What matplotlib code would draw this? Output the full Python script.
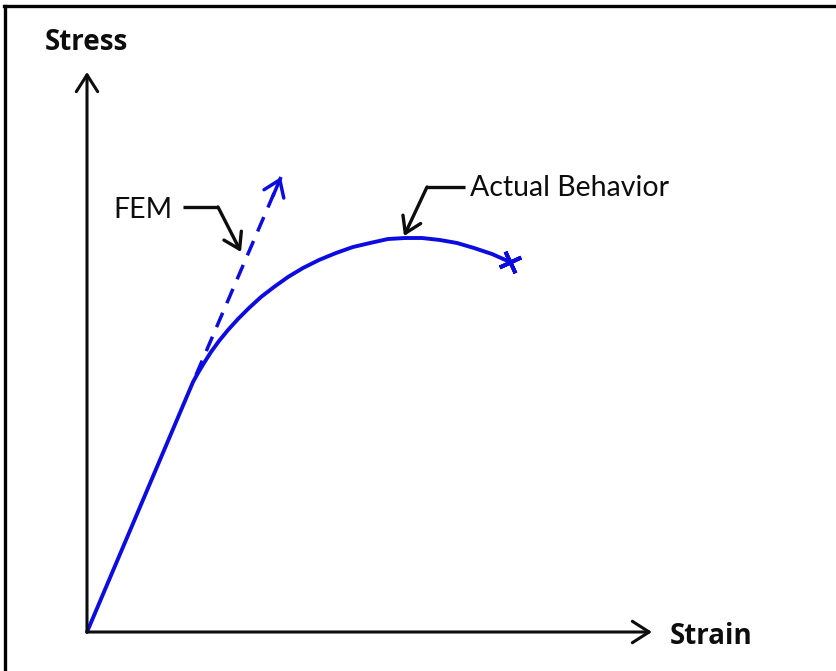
import matplotlib.pyplot as plt
from matplotlib.lines import Line2D

# stress-strain sketch, arbitrary units (origin at the axes corner)
strain_actual = [0, 106, 111, 117, 124, 132, 141, 151, 162, 174, 187, 201, 216, 232,
                 249, 266, 283, 301, 318, 335, 353, 370, 387, 405, 423]
stress_actual = [0, 250, 259, 269, 280, 291, 302, 313, 324, 335, 345, 355, 364, 372,
                 379, 385, 389, 393, 394, 394, 392, 389, 384, 378, 370]

# linear FEM prediction (dashed, continues the elastic slope)
strain_fem = [109, 194]
stress_fem = [257, 455]

# callout paths: [start of horizontal leg, bend, arrow tip]
fem_callout_x = [96, 131, 154]
fem_callout_y = [425, 425, 380]
actual_callout_x = [378, 340, 317]
actual_callout_y = [445, 445, 396]

axis_x_end = 565
axis_y_end = 560

blue = '#0c0ce0'
ink = '#0d0d0d'

fig = plt.figure(figsize=(8.36, 6.71), dpi=100)
ax = fig.add_axes([0, 0, 1, 1])
ax.set_xlim(-87, 749)
ax.set_ylim(-39, 632)
ax.axis('off')

# frame pieces (image is cropped on the right and bottom)
fig.add_artist(Line2D([0.005, 1.0], [0.991, 0.991], color='black', lw=2.4))
fig.add_artist(Line2D([0.006, 0.006], [0.0, 0.991], color='black', lw=2.4))

# axes with open arrowheads
head = '->,head_length=0.55,head_width=0.35'
ax.annotate('', xy=(0, axis_y_end), xytext=(0, 0),
            arrowprops=dict(arrowstyle=head, color=ink, lw=2.2, mutation_scale=22,
                            shrinkA=0, shrinkB=0))
ax.annotate('', xy=(axis_x_end, 0), xytext=(0, 0),
            arrowprops=dict(arrowstyle=head, color=ink, lw=2.2, mutation_scale=22,
                            shrinkA=0, shrinkB=0))
ax.text(-1, 589, 'Stress', ha='center', va='center', fontsize=20,
        fontweight='bold', family='Open Sans', color=ink)
ax.text(583, -4, 'Strain', ha='left', va='center', fontsize=20,
        fontweight='bold', family='Open Sans', color=ink)

# actual behaviour curve with fracture marker
ax.plot(strain_actual, stress_actual, color=blue, lw=2.8, solid_capstyle='round',
        solid_joinstyle='round')
ax.plot(strain_actual[-1], stress_actual[-1], marker=(4, 2, 25), ms=17,
        mew=2.8, color=blue)

# FEM dashed line, then a solid open arrowhead at its end
ax.plot(strain_fem, stress_fem, color=blue, lw=2.5, ls=(0, (4.5, 3)),
        dash_capstyle='butt')
ax.annotate('', xy=(strain_fem[1], stress_fem[1]),
            xytext=(strain_fem[1] - 8, stress_fem[1] - 19),
            arrowprops=dict(arrowstyle='->,head_length=0.5,head_width=0.35', color=blue,
                            lw=2.5, mutation_scale=22, shrinkA=0, shrinkB=0))

# callouts
for xs, ys in [(fem_callout_x, fem_callout_y), (actual_callout_x, actual_callout_y)]:
    ax.plot(xs[:2], ys[:2], color=ink, lw=2.4, solid_capstyle='butt')
    ax.annotate('', xy=(xs[2], ys[2]), xytext=(xs[1], ys[1]),
                arrowprops=dict(arrowstyle='->,head_length=0.5,head_width=0.32',
                                color=ink, lw=2.4, mutation_scale=22,
                                shrinkA=0, shrinkB=0))

ax.text(26, 422, 'FEM', ha='left', va='center', fontsize=20.5, family='Lato', color=ink)
ax.text(383, 444, 'Actual Behavior', ha='left', va='center', fontsize=20.5,
        family='Lato', color=ink)

fig.savefig('out.png', dpi=100)
